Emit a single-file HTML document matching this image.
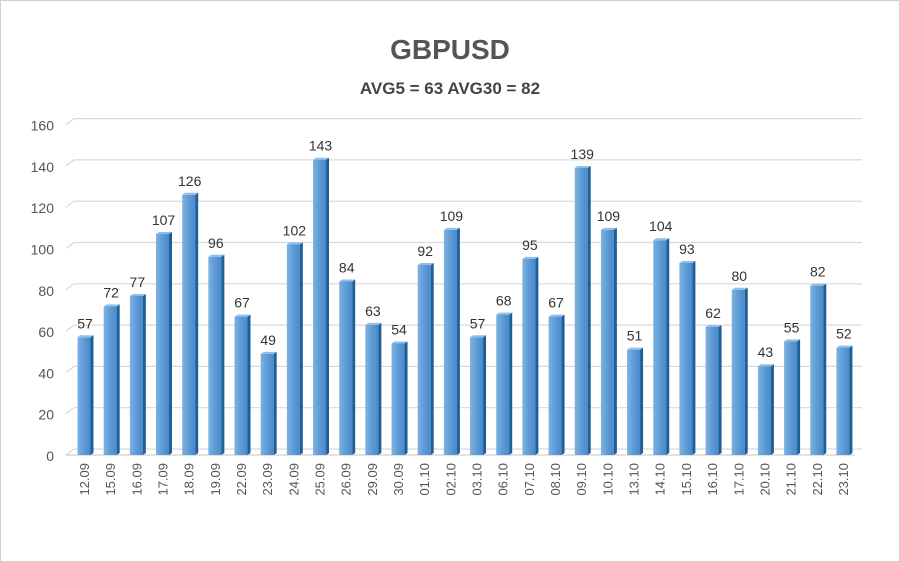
<!DOCTYPE html>
<html><head><meta charset="utf-8"><style>
html,body{margin:0;padding:0;background:#fff}
svg{display:block}
</style></head><body>
<svg width="900" height="562" viewBox="0 0 900 562" xmlns="http://www.w3.org/2000/svg" font-family="Liberation Sans, sans-serif">
<defs>
<linearGradient id="g" x1="0" x2="1" y1="0" y2="0">
<stop offset="0" stop-color="#7fb2e0"/><stop offset="0.5" stop-color="#5d9bd6"/><stop offset="1" stop-color="#4a8acb"/>
</linearGradient>
</defs>
<rect x="0.5" y="0.5" width="899" height="561" fill="#fff" stroke="#d0d0d0"/>
<text x="450" y="59" text-anchor="middle" font-size="28" font-weight="bold" fill="#555">GBPUSD</text>
<text x="450" y="94" text-anchor="middle" font-size="17" font-weight="bold" fill="#444">AVG5 = 63 AVG30 = 82</text>
<g id="grid" stroke="#d9d9d9" stroke-width="1.2" fill="none"></g>
<g id="ylab" font-size="14" fill="#555" text-anchor="end"></g>
<g id="bars"></g>
</svg>
<script>
const vals=[57,72,77,107,126,96,67,49,102,143,84,63,54,92,109,57,68,95,67,139,109,51,104,93,62,80,43,55,82,52];
const labs=["12.09","15.09","16.09","17.09","18.09","19.09","22.09","23.09","24.09","25.09","26.09","29.09","30.09","01.10","02.10","03.10","06.10","07.10","08.10","09.10","10.10","13.10","14.10","15.10","16.10","17.10","20.10","21.10","22.10","23.10"];
const ns="http://www.w3.org/2000/svg";
function el(t,a,p,txt){const e=document.createElementNS(ns,t);for(const k in a)e.setAttribute(k,a[k]);if(txt!==undefined)e.textContent=txt;p.appendChild(e);return e;}
const grid=document.getElementById('grid'),yl=document.getElementById('ylab'),bars=document.getElementById('bars');
const y0=455,sc=2.065;
for(let v=0;v<=160;v+=20){const y=y0-v*sc;
el('path',{d:`M66 ${y} L74 ${y-6} L862 ${y-6}`},grid);
el('text',{x:54,y:y+6},yl,String(v));}
el('path',{d:`M66 ${y0} L855 ${y0}`,stroke:'#d0d0d0','stroke-width':1.2},grid);
vals.forEach((v,i)=>{const cx=84+i*26.17,w=13,x=cx-w/2,top=y0-v*sc;
el('rect',{x:x,y:top,width:w,height:y0-top,fill:'url(#g)'},bars);
el('path',{d:`M${x+w} ${top} L${x+w+3} ${top-2} L${x+w+3} ${y0-2} L${x+w} ${y0} Z`,fill:'#1f5f99'},bars);
el('path',{d:`M${x} ${top} L${x+3} ${top-2} L${x+w+3} ${top-2} L${x+w} ${top} Z`,fill:'#8fbde6'},bars);
el('text',{x:cx+1,y:top-9,'text-anchor':'middle','font-size':14,fill:'#333'},bars,String(v));
el('text',{x:0,y:0,transform:`translate(${cx+5},463) rotate(-90)`,'text-anchor':'end','font-size':13,fill:'#555'},bars,labs[i]);
});
</script>
</body></html>
